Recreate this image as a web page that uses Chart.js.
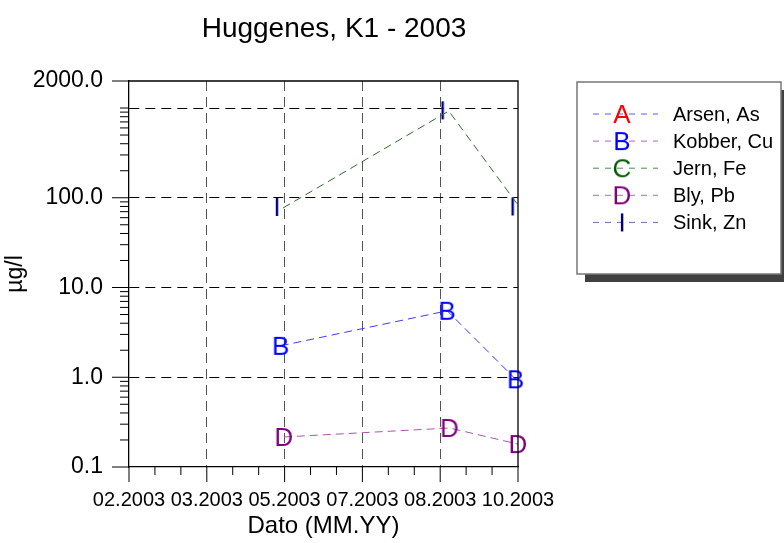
<!DOCTYPE html>
<html>
<head>
<meta charset="utf-8">
<script src="https://cdn.jsdelivr.net/npm/chart.js@4.4.1/dist/chart.umd.min.js"></script>
<style>
  html, body { margin: 0; padding: 0; background: #fff; }
  #wrap { width: 784px; height: 543px; }
</style>
</head>
<body>
<div id="wrap"><canvas id="chart" width="784" height="543"></canvas></div>
<script>
// x positions are in tick units (0 = 02.2003 ... 5 = 10.2003)
const xTickLabels = ["02.2003", "03.2003", "05.2003", "07.2003", "08.2003", "10.2003"];
const yTickValues = [0.1, 1, 10, 100, 1000, 2000];

const seriesNames = ["Arsen, As", "Kobber, Cu", "Jern, Fe", "Bly, Pb", "Sink, Zn"];
const seriesLetters = ["A", "B", "C", "D", "I"];

const asX = [];
const asY = [];
const cuX = [1.95, 4.09, 4.97];
const cuY = [2.24, 5.5, 0.95];
const feX = [1.98, 4.11, 5.0];
const feY = [77, 926, 83];
const pbX = [1.99, 4.12, 5.0];
const pbY = [0.216, 0.272, 0.18];
const znX = [1.9, 4.03, 4.93];
const znY = [79, 942, 80];

const FONT = "'Liberation Sans', Arial, sans-serif";

// letter used as a point marker
function letterMarker(ch, color) {
    const c = document.createElement("canvas");
    c.width = 32;
    c.height = 32;
    const g = c.getContext("2d");
    g.fillStyle = color;
    g.font = "26px " + FONT;
    g.textAlign = "center";
    g.textBaseline = "alphabetic";
    g.fillText(ch, 16, 25);
    return c;
}

const markerColors = ["#ff0000", "#0000ff", "#005a00", "#800080", "#000080"];
const legendLineColors = ["#5a5aff", "#bb66bb", "#4f8a4f", "#bb66bb", "#6a6ab0"];
const markers = seriesLetters.map((l, i) => letterMarker(l, markerColors[i]));

const pts = (xs, ys) => xs.map((x, i) => ({ x: x, y: ys[i] }));

// frame, extra ticks, title and legend box
const decorPlugin = {
    id: "decor",
    afterDraw(chart) {
        const { ctx, chartArea: a, scales } = chart;
        const xs = scales.x, ys = scales.y;
        ctx.save();
        ctx.strokeStyle = "#000";
        ctx.lineWidth = 1.3;
        ctx.beginPath();
        ctx.moveTo(a.left, a.top);
        ctx.lineTo(a.right, a.top);
        ctx.lineTo(a.right, a.bottom);
        ctx.stroke();

        ctx.lineWidth = 1;
        ctx.beginPath();
        // x ticks
        for (let i = 0; i < xTickLabels.length; i++) {
            const px = xs.getPixelForValue(i);
            ctx.moveTo(px, a.bottom);
            ctx.lineTo(px, a.bottom + 15);
            if (i < xTickLabels.length - 1) {
                for (let k = 1; k < 3; k++) {
                    const mx = xs.getPixelForValue(i + k / 3);
                    ctx.moveTo(mx, a.bottom);
                    ctx.lineTo(mx, a.bottom + 8);
                }
            }
        }
        // y ticks
        [0.1, 1, 10, 100, 2000].forEach(v => {
            const py = ys.getPixelForValue(v);
            ctx.moveTo(a.left - 17, py);
            ctx.lineTo(a.left, py);
        });
        for (let d = 0.1; d < 1000; d *= 10) {
            for (let m = 2; m <= 10; m++) {
                const v = d * m;
                if (v > 2000) break;
                if (m === 10 && v !== 1000) continue;
                const py = ys.getPixelForValue(v);
                ctx.moveTo(a.left - 9, py);
                ctx.lineTo(a.left, py);
            }
        }
        ctx.stroke();

        // title
        ctx.fillStyle = "#000";
        ctx.font = "28px " + FONT;
        ctx.textAlign = "center";
        ctx.textBaseline = "alphabetic";
        ctx.fillText("Huggenes, K1 - 2003", 334, 37);

        // legend box
        const bx = 577, by = 82, bw = 204, bh = 192;
        ctx.fillStyle = "#404040";
        ctx.fillRect(bx + 8, by + 8, bw, bh);
        ctx.fillStyle = "#fff";
        ctx.fillRect(bx, by, bw, bh);
        ctx.strokeStyle = "#777";
        ctx.lineWidth = 1.5;
        ctx.strokeRect(bx, by, bw, bh);

        ctx.font = "20px " + FONT;
        ctx.textAlign = "left";
        ctx.textBaseline = "middle";
        chart.data.datasets.forEach((ds, i) => {
            const ry = 114 + i * 27.1;
            ctx.save();
            ctx.strokeStyle = legendLineColors[i];
            ctx.lineWidth = 1;
            ctx.setLineDash([6, 6]);
            ctx.beginPath();
            ctx.moveTo(593, ry);
            ctx.lineTo(658, ry);
            ctx.stroke();
            ctx.restore();
            const mk = markers[i];
            ctx.drawImage(mk, 622 - mk.width / 2, ry - mk.height / 2);
            ctx.fillStyle = "#000";
            ctx.fillText(ds.label, 673, ry + 1);
        });
        ctx.restore();
    }
};

new Chart(document.getElementById("chart"), {
    type: "line",
    data: {
        datasets: [
            {
                label: seriesNames[0],
                data: pts(asX, asY),
                borderColor: "#3333ff",
                pointStyle: markers[0],
            },
            {
                label: seriesNames[1],
                data: pts(cuX, cuY),
                borderColor: "#3a3aff",
                borderDash: [8, 5],
                pointStyle: markers[1],
            },
            {
                label: seriesNames[2],
                data: pts(feX, feY),
                borderColor: "#2f6a2f",
                borderDash: [8, 5],
                pointRadius: 0,
            },
            {
                label: seriesNames[3],
                data: pts(pbX, pbY),
                borderColor: "#aa55aa",
                borderDash: [8, 5],
                pointStyle: markers[3],
            },
            {
                label: seriesNames[4],
                data: pts(znX, znY),
                showLine: false,
                pointStyle: markers[4],
            },
        ],
    },
    options: {
        responsive: false,
        animation: false,
        events: [],
        layout: { padding: { left: 0, top: 81, right: 266, bottom: 0 } },
        elements: {
            line: { borderWidth: 1, tension: 0, fill: false },
            point: { radius: 10 },
        },
        datasets: { line: { clip: false } },
        plugins: {
            legend: { display: false },
            tooltip: { enabled: false },
            title: { display: false },
        },
        scales: {
            x: {
                type: "linear",
                min: 0,
                max: 5,
                afterBuildTicks: (s) => { s.ticks = xTickLabels.map((_, i) => ({ value: i })); },
                afterFit: (s) => { s.height = 76; },
                ticks: {
                    autoSkip: false,
                    maxRotation: 0,
                    padding: 21,
                    color: "#000",
                    font: { family: FONT, size: 20 },
                    callback: (v) => xTickLabels[v],
                },
                grid: {
                    drawTicks: false,
                    color: (c) => (c.index === 0 || c.index === xTickLabels.length - 1) ? "rgba(0,0,0,0)" : "#555",
                },
                border: { color: "#000", width: 1.3, dash: [10, 6] },
                title: {
                    display: true,
                    text: "Dato (MM.YY)",
                    color: "#000",
                    font: { family: FONT, size: 24 },
                    padding: { top: 0, bottom: 2 },
                },
            },
            y: {
                type: "logarithmic",
                min: 0.1,
                max: 2000,
                afterBuildTicks: (s) => { s.ticks = yTickValues.map(v => ({ value: v })); },
                afterFit: (s) => { s.width = 129; },
                ticks: {
                    padding: 26,
                    color: "#000",
                    font: { family: FONT, size: 23 },
                    callback: (v) => v === 1000 ? "" : (v < 1 ? String(v) : v.toFixed(1)),
                },
                grid: {
                    drawTicks: false,
                    color: (c) => (c.tick && (c.tick.value === 0.1 || c.tick.value === 2000)) ? "rgba(0,0,0,0)" : "#000",
                },
                border: { color: "#000", width: 1.3, dash: [10, 6] },
                title: {
                    display: true,
                    text: "µg/l",
                    color: "#000",
                    font: { family: FONT, size: 23 },
                    padding: { top: 2, bottom: 0 },
                },
            },
        },
    },
    plugins: [decorPlugin],
});
</script>
</body>
</html>
